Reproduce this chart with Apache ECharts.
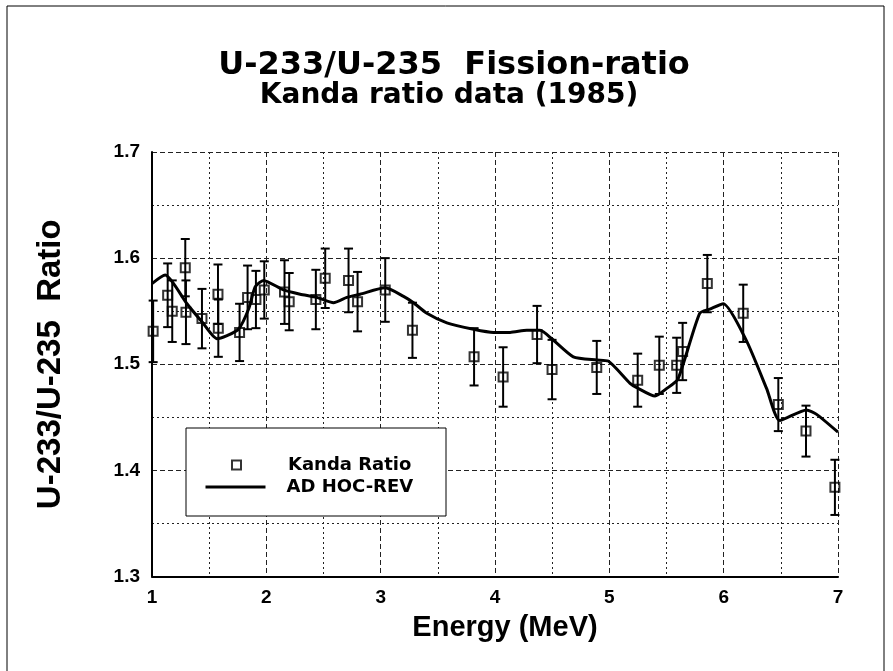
<!DOCTYPE html>
<html>
<head>
<meta charset="utf-8">
<script src="https://cdn.jsdelivr.net/npm/echarts@6/dist/echarts.min.js"></script>
<style>
  html, body { margin: 0; padding: 0; background: #fff; }
  #chart { width: 893px; height: 671px; }
</style>
</head>
<body>
<div id="chart"></div>
<script>
// Kanda ratio measurements: energy, ratio, +/- error
var kandaX = [1.01, 1.137, 1.177, 1.291, 1.297, 1.437, 1.577, 1.580, 1.766, 1.836, 1.909, 1.982,
  2.159, 2.2, 2.433, 2.515, 2.719, 2.798, 3.04, 3.278, 3.817, 4.071, 4.368, 4.499, 4.89,
  5.248, 5.437, 5.589, 5.641, 5.857, 6.171, 6.478, 6.72, 6.973];
var kandaY = [1.531, 1.565, 1.550, 1.591, 1.549, 1.543, 1.566, 1.534, 1.530, 1.563, 1.561, 1.570,
  1.568, 1.559, 1.561, 1.581, 1.579, 1.559, 1.570, 1.532, 1.507, 1.488, 1.528, 1.495, 1.497,
  1.485, 1.499, 1.499, 1.512, 1.576, 1.548, 1.462, 1.437, 1.384];
var kandaErr = [0.029, 0.03, 0.029, 0.027, 0.03, 0.028, 0.028, 0.027, 0.027, 0.03, 0.027, 0.027,
  0.03, 0.027, 0.028, 0.028, 0.03, 0.028, 0.03, 0.026, 0.027, 0.028, 0.027, 0.028, 0.025,
  0.025, 0.027, 0.026, 0.027, 0.027, 0.027, 0.025, 0.024, 0.026];

// AD HOC-REV evaluation curve
var curveX = [1.0, 1.116, 1.189, 1.306, 1.437, 1.568, 1.656, 1.757, 1.845, 1.903, 1.976, 2.15,
  2.296, 2.442, 2.588, 2.704, 2.82, 3.04, 3.2, 3.287, 3.404, 3.579, 3.812, 3.986, 4.132, 4.278,
  4.394, 4.497, 4.685, 4.89, 4.99, 5.181, 5.24, 5.40, 5.50, 5.60, 5.79, 5.88, 5.997, 6.2,
  6.376, 6.49, 6.725, 6.81, 7.0];
var curveY = [1.576, 1.584, 1.576, 1.557, 1.540, 1.524, 1.527, 1.533, 1.552, 1.573, 1.579, 1.570,
  1.566, 1.563, 1.558, 1.563, 1.566, 1.572, 1.564, 1.558, 1.548, 1.539, 1.533, 1.530, 1.530, 1.532,
  1.532, 1.524, 1.507, 1.504, 1.503, 1.482, 1.478, 1.470, 1.477, 1.486, 1.548, 1.552, 1.557, 1.522,
  1.477, 1.447, 1.457, 1.453, 1.436];

var xTicks = [1, 2, 3, 4, 5, 6, 7];
var yTicks = [1.3, 1.4, 1.5, 1.6, 1.7];

var pts = kandaX.map(function (x, i) { return [x, kandaY[i]]; });
var bars = kandaX.map(function (x, i) { return [x, kandaY[i] - kandaErr[i], kandaY[i] + kandaErr[i]]; });
var line = curveX.map(function (x, i) { return [x, curveY[i]]; });

var chart = echarts.init(document.getElementById('chart'));
var tickFont = { color: '#000', fontFamily: 'Liberation Sans', fontWeight: 'bold', fontSize: 19 };

chart.setOption({
  backgroundColor: '#fff',
  animation: false,
  grid: { left: 152, right: 55, top: 152, bottom: 94.5 },
  graphic: [
    { type: 'rect', shape: { x: 7, y: 6, width: 877, height: 700 }, style: { fill: null, stroke: '#000', lineWidth: 1 }, z: -10 },
    { type: 'text', x: 454, y: 66, style: { text: 'U-233/U-235  Fission-ratio', fontFamily: 'DejaVu Sans', fontWeight: 'bold', fontSize: 32, fill: '#000', textAlign: 'center', textVerticalAlign: 'middle' } },
    { type: 'text', x: 449, y: 96, style: { text: 'Kanda ratio data (1985)', fontFamily: 'DejaVu Sans', fontWeight: 'bold', fontSize: 28, fill: '#000', textAlign: 'center', textVerticalAlign: 'middle' } },
    { type: 'rect', shape: { x: 186, y: 428, width: 260, height: 88 }, style: { fill: '#fff', stroke: '#000', lineWidth: 1 }, z: 20 }
  ],
  legend: [
    {
      data: ['Kanda Ratio'], left: 231, top: 456, itemWidth: 9, itemHeight: 9, padding: 0, z: 30,
      textStyle: { fontFamily: 'DejaVu Sans', fontWeight: 'bold', fontSize: 18, color: '#000', padding: [0, 0, 0, 42] }
    },
    {
      data: [{ name: 'AD HOC-REV', icon: 'rect' }], left: 205.5, top: 478, itemWidth: 60, itemHeight: 3, padding: 0, z: 30,
      itemStyle: { color: '#000' },
      textStyle: { fontFamily: 'DejaVu Sans', fontWeight: 'bold', fontSize: 18, color: '#000', padding: [0, 0, 0, 16] }
    }
  ],
  xAxis: {
    type: 'value', min: 1, max: 7, interval: 1,
    name: 'Energy (MeV)', nameLocation: 'middle', nameGap: 37,
    nameTextStyle: { fontFamily: 'Liberation Sans', fontWeight: 'bold', fontSize: 29, color: '#000', padding: [0, 0, 0, 20] },
    axisLine: { onZero: false, lineStyle: { color: '#000', width: 2 } },
    axisTick: { show: false },
    axisLabel: Object.assign({ margin: 12, formatter: function (v) { return xTicks.indexOf(v) >= 0 ? String(v) : ''; } }, tickFont),
    splitLine: { show: true, lineStyle: { color: '#222', width: 1, type: [5, 3] } },
    minorTick: { show: false, splitNumber: 2 },
    minorSplitLine: { show: true, lineStyle: { color: '#222', width: 1, type: [2, 3] } }
  },
  yAxis: {
    type: 'value', min: 1.3, max: 1.7, interval: 0.1,
    name: 'U-233/U-235  Ratio', nameLocation: 'middle', nameGap: 85, nameRotate: 90,
    nameTextStyle: { fontFamily: 'Liberation Sans', fontWeight: 'bold', fontSize: 33, color: '#000' },
    axisLine: { onZero: false, lineStyle: { color: '#000', width: 2 } },
    axisTick: { show: false },
    axisLabel: Object.assign({ margin: 12, formatter: function (v) {
      var t = yTicks.filter(function (k) { return Math.abs(k - v) < 1e-6; });
      return t.length ? t[0].toFixed(1) : '';
    } }, tickFont),
    splitLine: { show: true, lineStyle: { color: '#222', width: 1, type: [5, 3] } },
    minorTick: { show: false, splitNumber: 2 },
    minorSplitLine: { show: true, lineStyle: { color: '#222', width: 1, type: [2, 3] } }
  },
  series: [
    {
      name: 'AD HOC-REV', type: 'line', data: line, symbol: 'none', smooth: 0.2,
      lineStyle: { color: '#000', width: 3 }, itemStyle: { color: '#000' }, z: 3
    },
    {
      name: 'errors', type: 'custom', data: bars, z: 4,
      renderItem: function (params, api) {
        var lo = api.coord([api.value(0), api.value(1)]);
        var hi = api.coord([api.value(0), api.value(2)]);
        var w = 4.5;
        var st = { stroke: '#000', lineWidth: 2 };
        return {
          type: 'group',
          children: [
            { type: 'line', shape: { x1: lo[0], y1: lo[1], x2: hi[0], y2: hi[1] }, style: st },
            { type: 'line', shape: { x1: lo[0] - w, y1: lo[1], x2: lo[0] + w, y2: lo[1] }, style: st },
            { type: 'line', shape: { x1: hi[0] - w, y1: hi[1], x2: hi[0] + w, y2: hi[1] }, style: st }
          ]
        };
      }
    },
    {
      name: 'Kanda Ratio', type: 'scatter', data: pts, symbol: 'rect', symbolSize: 9, z: 5,
      itemStyle: { color: 'rgba(255,255,255,0)', borderColor: '#000', borderWidth: 2 }
    }
  ]
});
</script>
</body>
</html>
